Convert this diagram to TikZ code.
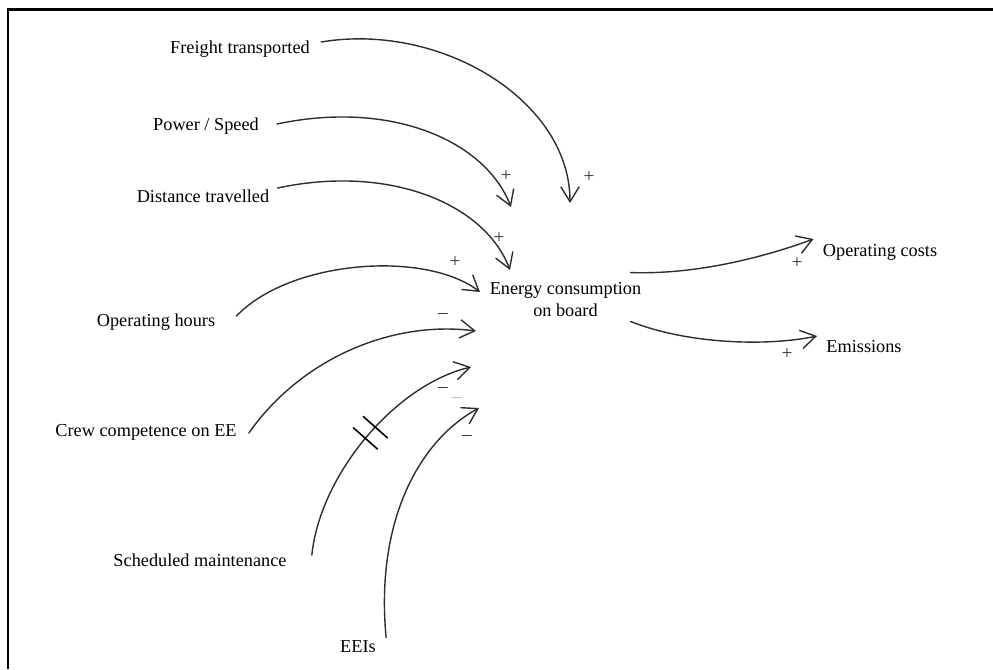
\documentclass[tikz,border=0pt]{standalone}
\usepackage{fontspec}
\setmainfont{Liberation Serif}
\usetikzlibrary{arrows.meta,calc,decorations.markings}
\tikzset{
  lbl/.style={inner sep=0pt, font=\fontsize{10.4}{12.5}\selectfont, text=black},
  sgn/.style={inner sep=0pt, font=\fontsize{11}{13}\selectfont, text=black!80},
  faintsgn/.style={sgn, text=black!25},
  link/.style={draw=black!82, line width=0.8pt, line cap=round,
    -{Straight Barb[length=8.5pt,width=10.5pt,line width=0.8pt]}},
  delaymark/.style={postaction={decorate, decoration={markings,
    mark=at position #1 with {\draw[-, black, line width=0.9pt] (-7.5,-16)--(-7.5,16);
                               \draw[-, black, line width=0.9pt] (7.5,-16)--(7.5,16);}}}},
  frameline/.style={draw=black, line width=1.4pt}
}
\begin{document}
\begin{tikzpicture}[x=0.02cm,y=-0.02cm]
\useasboundingbox (0,0) rectangle (993,669);
\draw[frameline] (8,669) -- (8,9.5) -- (993,9.5);

% nodes
\node[lbl] (freight) at (240,49) {Freight transported};
\node[lbl] (power) at (206,126) {Power / Speed};
\node[lbl] (distance) at (203,196) {Distance travelled};
\node[lbl] (hours) at (156,322) {Operating hours};
\node[lbl] (crew) at (146,432) {Crew competence on EE};
\node[lbl] (sched) at (200,560) {Scheduled maintenance};
\node[lbl] (eeis) at (358,647) {EEIs};
\node[lbl, align=center] (energy) at (565.5,300) {Energy consumption\\on board};
\node[lbl] (costs) at (880,252) {Operating costs};
\node[lbl] (emis) at (864,347) {Emissions};

% arrow tips near the central node
\coordinate (tF) at (570,203);
\coordinate (tP) at (511,207);
\coordinate (tD) at (510,270);
\coordinate (tH) at (480,292);
\coordinate (tC) at (476,331);
\coordinate (tS) at (471,367);
\coordinate (tE) at (479,408);

% incoming links
\draw[link] ($(freight.east)+(11,-7)$) .. controls (440,22) and (570,100) .. (tF);
\draw[link] ($(power.east)+(18,-2)$) .. controls (390,100) and (485,140) .. (tP);
\draw[link] ($(distance.east)+(8,-8)$) .. controls (390,164) and (485,204) .. (tD);
\draw[link] ($(hours.east)+(21,-6)$) .. controls (290,260) and (425,250) .. (tH);
\draw[link] ($(crew.east)+(12,1)$) .. controls (300,360) and (390,320) .. (tC);
\draw[link, delaymark=0.53] ($(sched.east)+(25,-5)$) .. controls (320,475) and (395,385) .. (tS);
\draw[link] ($(eeis.north east)+(10,-3)$) .. controls (375,520) and (420,440) .. (tE);

% outgoing links
\draw[link] ($(energy.north east)+(-11,-10)$) .. controls (700,275) and (770,255) .. ($(costs.west)+(-9,-13)$);
\draw[link] ($(energy.south east)+(-11,4)$) .. controls (690,345) and (770,346) .. ($(emis.west)+(-9,-11)$);

% polarity signs
\node[sgn] (sF) at (589,177) {+};
\node[sgn] (sP) at (506,176) {+};
\node[sgn] (sD) at (499,238) {+};
\node[sgn] (sH) at (455,262) {+};
\node[sgn] (sC) at (443,316) {–};
\node[sgn] (sS) at (443,390) {–};
\node[faintsgn] (sX) at (457,400) {–};
\node[sgn] (sE) at (467,438) {–};
\node[sgn] (sCo) at (797,263) {+};
\node[sgn] (sEm) at (787,354) {+};
\end{tikzpicture}
\end{document}
